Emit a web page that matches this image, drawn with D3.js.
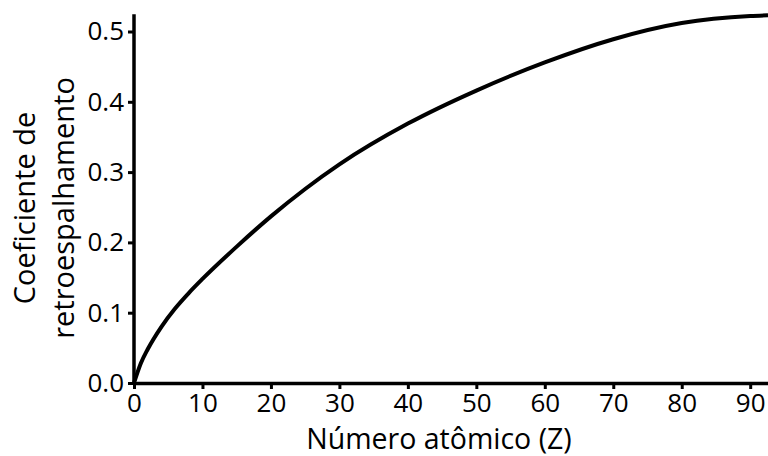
<!DOCTYPE html>
<html>
<head>
<meta charset="utf-8">
<script src="https://cdn.jsdelivr.net/npm/d3@7/dist/d3.min.js"></script>
<style>
  html, body { margin: 0; padding: 0; background: #fff; }
  svg text { font-family: "Open Sans", "Noto Sans", sans-serif; fill: #000; }
</style>
</head>
<body>
<svg id="chart" width="768" height="456"></svg>
<script>
// Data
const atomicNumber = [0, 1, 2, 4, 6, 8, 10, 15, 20, 25, 30, 40, 50, 60, 70, 80, 90, 92.6];
const backscatter  = [0, 0.028, 0.048, 0.080, 0.106, 0.128, 0.148, 0.194, 0.237, 0.276, 0.311, 0.369, 0.416, 0.456, 0.489, 0.512, 0.522, 0.523];
const xTicks = [0, 10, 20, 30, 40, 50, 60, 70, 80, 90];
const yTicks = [0.0, 0.1, 0.2, 0.3, 0.4, 0.5];
const xTitle = "Número atômico (Z)";
const yTitleLines = ["Coeficiente de", "retroespalhamento"];

const svg = d3.select("#chart");
const x = d3.scaleLinear().domain([0, 92.6]).range([134, 768]);
const y = d3.scaleLinear().domain([0, 0.5]).range([383, 31.5]);
const yTop = 0.523;

// Curve
const pts = atomicNumber.map((z, i) => [z, backscatter[i]]);
svg.append("path")
  .datum(pts)
  .attr("fill", "none")
  .attr("stroke", "#000")
  .attr("stroke-width", 4)
  .attr("d", d3.line().x(d => x(d[0])).y(d => y(d[1])).curve(d3.curveMonotoneX));

// X axis
const xAxis = svg.append("g")
  .attr("transform", `translate(0,${y(0)})`)
  .call(d3.axisBottom(x).tickValues(xTicks).tickSize(6).tickSizeOuter(0).tickPadding(5).tickFormat(d3.format("d")));
xAxis.select(".domain").attr("stroke-width", 3.5);
xAxis.selectAll(".tick line").attr("stroke-width", 3);
xAxis.selectAll(".tick text").attr("font-size", 26).attr("fill", "#000");

// Y axis
const yAxis = svg.append("g")
  .attr("transform", `translate(${x(0)},0)`)
  .call(d3.axisLeft(y).tickValues(yTicks).tickSize(6).tickSizeOuter(0).tickPadding(4).tickFormat(d3.format(".1f")));
yAxis.select(".domain").attr("d", `M0,${y(0) + 1.5}V${y(yTop) - 1}`).attr("stroke-width", 3.5);
yAxis.selectAll(".tick line").attr("stroke-width", 3);
yAxis.selectAll(".tick text").attr("font-size", 26).attr("fill", "#000");
svg.selectAll(".domain, .tick line").attr("stroke", "#000");

// Titles
svg.append("text")
  .attr("x", 439).attr("y", 449)
  .attr("text-anchor", "middle")
  .attr("font-size", 28.5)
  .text(xTitle);

const yt = svg.append("text")
  .attr("transform", `translate(35,208) rotate(-90)`)
  .attr("text-anchor", "middle")
  .attr("font-size", 29);
yTitleLines.forEach((t, i) => {
  yt.append("tspan").attr("x", 0).attr("dy", i === 0 ? 0 : 39).text(t);
});
</script>
</body>
</html>
